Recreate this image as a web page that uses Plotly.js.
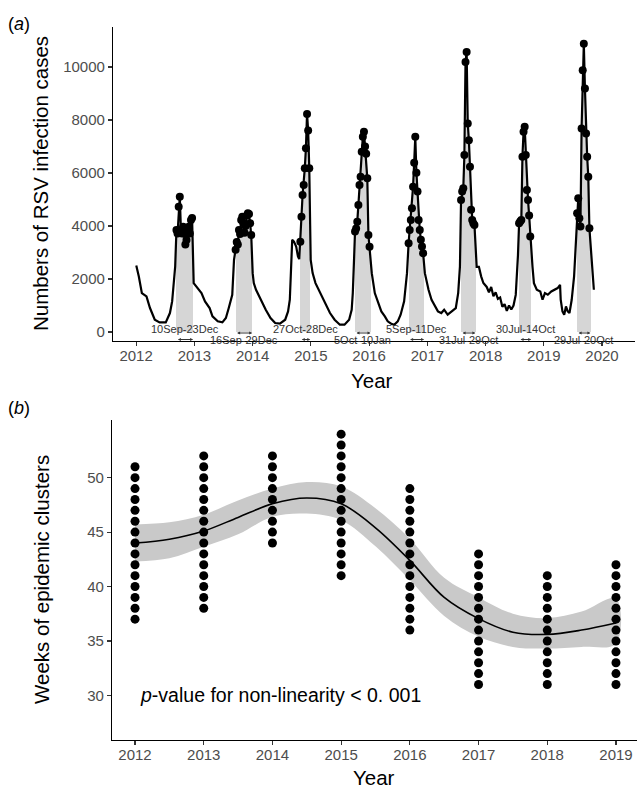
<!DOCTYPE html>
<html><head><meta charset="utf-8">
<script src="https://cdn.plot.ly/plotly-3.0.1.min.js"></script>
<style>html,body{margin:0;padding:0;background:#fff;} #chart{width:637px;height:790px;}</style>
</head><body><div id="chart"></div>
<script>
// ---------- Panel (a): weekly RSV infection cases ----------
const caseDates = [
'2012-01-02','2012-01-18','2012-02-06','2012-03-06','2012-03-28','2012-04-27','2012-05-27','2012-07-05','2012-07-31','2012-08-14','2012-09-02',
'2012-09-10','2012-09-17','2012-09-24','2012-10-01','2012-10-08','2012-10-15','2012-10-22','2012-10-29','2012-11-05','2012-11-12','2012-11-19','2012-11-26','2012-12-03','2012-12-10','2012-12-17',
'2012-12-27','2013-01-14','2013-02-14','2013-03-08','2013-04-06','2013-04-24','2013-05-27','2013-06-25','2013-07-17','2013-08-04','2013-08-26','2013-09-06',
'2013-09-16','2013-09-23','2013-09-30','2013-10-07','2013-10-14','2013-10-21','2013-10-28','2013-11-04','2013-11-11','2013-11-18','2013-11-25','2013-12-02','2013-12-09','2013-12-16','2013-12-23',
'2014-01-01','2014-01-08','2014-01-22','2014-02-21','2014-03-24','2014-04-23','2014-05-22','2014-06-21','2014-07-24','2014-08-11','2014-08-22','2014-09-06','2014-09-17','2014-10-01','2014-10-12','2014-10-20',
'2014-10-27','2014-11-03','2014-11-10','2014-11-17','2014-11-24','2014-12-01','2014-12-08','2014-12-15','2014-12-22',
'2014-12-31','2015-01-12','2015-01-30','2015-02-28','2015-04-02','2015-05-01','2015-05-30','2015-07-02','2015-07-31','2015-08-29','2015-09-14','2015-09-21','2015-09-28',
'2015-10-05','2015-10-12','2015-10-19','2015-10-26','2015-11-02','2015-11-09','2015-11-16','2015-11-23','2015-11-30','2015-12-07','2015-12-14','2015-12-21','2015-12-28','2016-01-04',
'2016-01-18','2016-02-06','2016-02-28','2016-03-18','2016-04-09','2016-04-27','2016-05-19','2016-06-07','2016-06-29','2016-07-17','2016-08-08','2016-08-26',
'2016-09-05','2016-09-12','2016-09-19','2016-09-26','2016-10-03','2016-10-10','2016-10-17','2016-10-24','2016-10-31','2016-11-07','2016-11-14','2016-11-21','2016-11-28','2016-12-05',
'2016-12-16','2017-01-08','2017-01-27','2017-02-17','2017-03-08','2017-03-29','2017-04-16','2017-05-08','2017-06-06','2017-06-28','2017-07-13','2017-07-24',
'2017-07-31','2017-08-07','2017-08-14','2017-08-21','2017-08-28','2017-09-04','2017-09-11','2017-09-18','2017-09-25','2017-10-02','2017-10-09','2017-10-16','2017-10-23',
'2017-11-06','2017-11-20','2017-12-04','2017-12-18','2018-01-08','2018-01-22','2018-02-05','2018-02-19','2018-03-05','2018-03-19','2018-04-02','2018-04-16','2018-04-30','2018-05-14','2018-05-28','2018-06-11','2018-06-25','2018-07-09','2018-07-23',
'2018-07-30','2018-08-06','2018-08-13','2018-08-20','2018-08-27','2018-09-03','2018-09-10','2018-09-17','2018-09-24','2018-10-01','2018-10-08',
'2018-10-22','2018-10-31','2018-11-18','2018-12-10','2018-12-24','2019-01-08','2019-01-26','2019-02-17','2019-03-11','2019-03-29','2019-04-13','2019-04-17','2019-04-28','2019-05-09','2019-05-20','2019-05-31','2019-06-11','2019-06-25','2019-07-10','2019-07-20',
'2019-07-29','2019-08-05','2019-08-12','2019-08-19','2019-08-26','2019-09-02','2019-09-09','2019-09-16','2019-09-23','2019-09-30','2019-10-07','2019-10-14',
'2019-11-11'
];
const caseCounts = [
2510,2096,1468,1343,904,464,364,364,715,1155,2472,
3850,3720,4730,5100,3850,3720,3970,3720,3300,3470,3720,3970,3720,4230,4300,
1845,1719,1468,1155,904,590,402,364,527,904,1406,2723,
3100,3400,3300,3850,3700,4230,4350,4100,3750,4000,4400,4480,4450,4100,3660,
2221,1845,1594,1217,841,527,339,314,464,778,1217,3476,3414,3225,2849,2750,
3410,4350,5170,5550,6180,6930,8230,7600,6180,
2723,2221,1845,1468,1092,715,464,276,276,464,841,1468,2598,
3790,3910,4160,4790,5550,5860,6800,7370,7560,7000,6730,5800,3660,3220,
2221,1468,1092,778,590,402,314,276,402,652,1155,2221,
3350,3850,4230,4670,5480,6390,7370,6010,5300,4230,3850,3480,3225,2975,
2221,1594,1217,966,778,715,840,652,778,904,1468,2472,
4980,5300,5420,6680,10190,10570,7870,7240,6240,4610,4230,4100,4040,
2460,2460,2100,1850,1700,1500,1700,1350,1500,1250,1300,950,1050,800,1000,850,1000,1400,2900,
4100,4166,4230,6614,7555,7743,6680,5360,4980,4400,3600,
2472,1845,1594,1531,1217,1468,1406,1531,1594,1657,1782,1217,778,652,966,778,715,1217,2096,3476,
4480,5045,4290,3980,7680,9877,10880,9190,7490,6614,5860,3915,
1594
];
const clusterStarts = ['2012-09-10','2013-09-16','2014-10-27','2015-10-05','2016-09-05','2017-07-31','2018-07-30','2019-07-29'];
const clusterEnds   = ['2012-12-23','2013-12-29','2014-12-28','2016-01-10','2016-12-11','2017-10-29','2018-10-14','2019-10-20'];
const clusterLabels = ['10Sep-23Dec','16Sep-29Dec','27Oct-28Dec','5Oct-10Jan','5Sep-11Dec','31Jul-29Oct','30Jul-14Oct','29Jul-20Oct'];
const yearTickDates = ['2012-01-01','2013-01-01','2014-01-01','2015-01-01','2016-01-01','2017-01-01','2018-01-01','2019-01-01','2020-01-01'];
const yearTickLabels = ['2012','2013','2014','2015','2016','2017','2018','2019','2020'];
const caseTicks = [0,2000,4000,6000,8000,10000];

// ---------- Panel (b): weeks of epidemic clusters ----------
const clusterYears = [2012,2013,2014,2015,2016,2017,2018,2019];
const weeks2012 = [37,38,39,40,41,42,43,44,45,46,47,48,49,50,51];
const weeks2013 = [38,39,40,41,42,43,44,45,46,47,48,49,50,51,52];
const weeks2014 = [44,45,46,47,48,49,50,51,52];
const weeks2015 = [41,42,43,44,45,46,47,48,49,50,51,52,53,54];
const weeks2016 = [36,37,38,39,40,41,42,43,44,45,46,47,48,49];
const weeks2017 = [31,32,33,34,35,36,37,38,39,40,41,42,43];
const weeks2018 = [31,32,33,34,35,36,37,38,39,40,41];
const weeks2019 = [31,32,33,34,35,36,37,38,39,40,41,42];
const fitYears = [2012,2012.5,2013,2013.5,2014,2014.5,2015,2015.5,2016,2016.5,2017,2017.5,2018,2018.5,2019];
const fitWeeks = [44.0,44.35,45.1,46.35,47.6,48.13,47.6,45.4,42.4,39.0,37.05,35.8,35.6,36.0,36.65];
const fitUpper = [45.7,45.9,46.6,47.9,49.0,49.6,49.2,47.2,44.4,40.8,39.0,37.5,37.1,37.7,38.9];
const fitLower = [42.3,42.6,43.65,44.8,46.4,46.7,46.1,43.7,40.6,37.3,35.4,34.45,34.3,34.45,34.75];
const weekTicks = [30,35,40,45,50];
const pText = '<i>p</i>-value for non-linearity < 0. 001';

// ---------- build ----------
const W = 637, H = 790;
const PX = x => x / W, PY = y => 1 - y / H;
const FONT = 'Liberation Sans, Arial, sans-serif';
const TICKFONT = {family: FONT, size: 15, color: '#4D4D4D'};
const TITLEFONT = {family: FONT, size: 20.5, color: '#000'};

const inCluster = (d) => clusterStarts.some((s, i) => d >= s && d <= clusterEnds[i]);
const cx = [], cy = [];
caseDates.forEach((d, i) => { if (inCluster(d)) { cx.push(d); cy.push(caseCounts[i]); } });

const traces = [];
traces.push({type: 'bar', x: cx, y: cy, xaxis: 'x', yaxis: 'y', width: 7 * 86400000, offset: 0,
  marker: {color: '#D6D6D6', line: {width: 0}}, hoverinfo: 'skip', showlegend: false});
traces.push({type: 'scatter', mode: 'lines', x: caseDates, y: caseCounts, xaxis: 'x', yaxis: 'y',
  line: {color: '#000', width: 2.2}, showlegend: false});
traces.push({type: 'scatter', mode: 'markers', x: cx, y: cy, xaxis: 'x', yaxis: 'y',
  marker: {color: '#000', size: 8}, showlegend: false});

const bandX = fitYears.concat(fitYears.slice().reverse());
const bandY = fitUpper.concat(fitLower.slice().reverse());
traces.push({type: 'scatter', mode: 'lines', x: bandX, y: bandY, xaxis: 'x2', yaxis: 'y2', fill: 'toself',
  fillcolor: '#C9C9C9', line: {width: 0, shape: 'spline', smoothing: 1}, showlegend: false, hoverinfo: 'skip'});
const allWeeks = [weeks2012, weeks2013, weeks2014, weeks2015, weeks2016, weeks2017, weeks2018, weeks2019];
const dx = [], dy = [];
allWeeks.forEach((ws, i) => ws.forEach(w => { dx.push(clusterYears[i]); dy.push(w); }));
traces.push({type: 'scatter', mode: 'markers', x: dx, y: dy, xaxis: 'x2', yaxis: 'y2',
  marker: {color: '#000', size: 9}, showlegend: false});
traces.push({type: 'scatter', mode: 'lines', x: fitYears, y: fitWeeks, xaxis: 'x2', yaxis: 'y2',
  line: {color: '#000', width: 1.6, shape: 'spline', smoothing: 1}, showlegend: false});

const v = p => (332 - p) / 0.0265; // pixel row -> case value (panel a)
const annotations = [];
clusterStarts.forEach((s, i) => {
  const e = clusterEnds[i];
  const mid = new Date((Date.parse(s) + Date.parse(e)) / 2).toISOString().slice(0, 10);
  const upperText = (i % 2 === 0);
  annotations.push({xref: 'x', yref: 'y', x: mid, y: upperText ? v(329) : v(340), text: clusterLabels[i],
    showarrow: false, font: {family: FONT, size: 11, color: '#333'}, xanchor: 'center', yanchor: 'middle'});
  const ay = upperText ? v(339.5) : v(333);
  annotations.push({xref: 'x', yref: 'y', axref: 'x', ayref: 'y', x: e, y: ay, ax: s, ay: ay, text: '',
    showarrow: true, arrowside: 'end+start', arrowhead: 2, arrowsize: 0.6, arrowwidth: 1, arrowcolor: '#333',
    standoff: 0, startstandoff: 0});
});
annotations.push({xref: 'paper', yref: 'paper', x: PX(19), y: PY(24), text: '(<i>a</i>)', showarrow: false,
  font: {family: FONT, size: 18, color: '#000'}, xanchor: 'center', yanchor: 'middle'});
annotations.push({xref: 'paper', yref: 'paper', x: PX(19), y: PY(408), text: '(<i>b</i>)', showarrow: false,
  font: {family: FONT, size: 18, color: '#000'}, xanchor: 'center', yanchor: 'middle'});
annotations.push({xref: 'paper', yref: 'paper', x: PX(40), y: PY(184), text: 'Numbers of RSV infection cases', textangle: -90,
  showarrow: false, font: TITLEFONT, xanchor: 'center', yanchor: 'middle'});
annotations.push({xref: 'paper', yref: 'paper', x: PX(41), y: PY(580), text: 'Weeks of epidemic clusters', textangle: -90,
  showarrow: false, font: TITLEFONT, xanchor: 'center', yanchor: 'middle'});
annotations.push({xref: 'paper', yref: 'paper', x: PX(372), y: PY(380), text: 'Year', showarrow: false,
  font: TITLEFONT, xanchor: 'center', yanchor: 'middle'});
annotations.push({xref: 'paper', yref: 'paper', x: PX(374), y: PY(777), text: 'Year', showarrow: false,
  font: TITLEFONT, xanchor: 'center', yanchor: 'middle'});
annotations.push({xref: 'x2', yref: 'y2', x: 2012.04, y: 30, text: pText, showarrow: false,
  font: {family: FONT, size: 19.5, color: '#000'}, xanchor: 'left', yanchor: 'middle'});

const axisCommon = {showline: true, linecolor: '#000', linewidth: 1.1, ticks: 'outside', ticklen: 4, tickwidth: 1.1,
  tickcolor: '#333', showgrid: false, zeroline: false, tickfont: TICKFONT, fixedrange: true};

const layout = {
  width: W, height: H, margin: {l: 0, r: 0, t: 0, b: 0}, paper_bgcolor: '#fff', plot_bgcolor: '#fff',
  showlegend: false, bargap: 0,
  xaxis: Object.assign({}, axisCommon, {type: 'date', domain: [PX(113), PX(635)], anchor: 'y',
    range: ['2011-08-09', '2020-07-26'], tickmode: 'array', tickvals: yearTickDates, ticktext: yearTickLabels,
    ticklabelstandoff: -3}),
  yaxis: Object.assign({}, axisCommon, {domain: [PY(341), PY(27)], anchor: 'x', range: [v(341), v(27)],
    tickmode: 'array', tickvals: caseTicks, ticktext: caseTicks.map(String)}),
  xaxis2: Object.assign({}, axisCommon, {domain: [PX(112), 1], anchor: 'y2', range: [2011.665, 2019.306],
    tickmode: 'array', tickvals: clusterYears, ticktext: clusterYears.map(String), ticklabelstandoff: -3}),
  yaxis2: Object.assign({}, axisCommon, {domain: [PY(740), PY(420)], anchor: 'x2', range: [25.9, 55.3],
    tickmode: 'array', tickvals: weekTicks, ticktext: weekTicks.map(String)}),
  annotations: annotations
};
Plotly.newPlot('chart', traces, layout, {staticPlot: true, displayModeBar: false});
</script></body></html>
